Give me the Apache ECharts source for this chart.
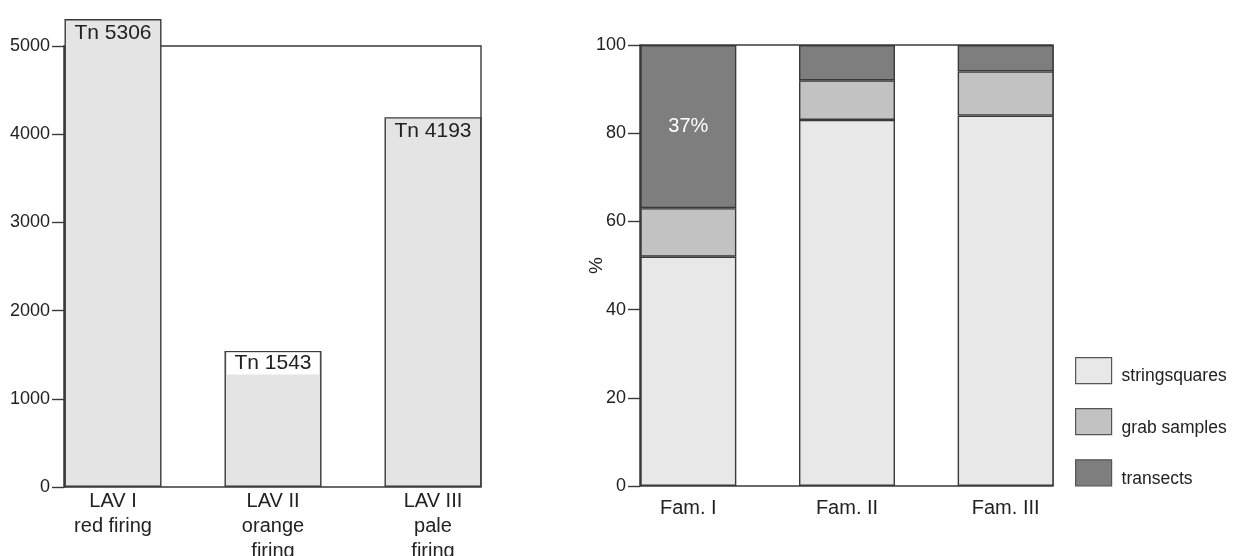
<!DOCTYPE html>
<html>
<head>
<meta charset="utf-8">
<script src="https://cdn.jsdelivr.net/npm/echarts@6/dist/echarts.min.js"></script>
<style>
html,body{margin:0;padding:0;background:#fff;}
#chart{width:1241px;height:556px;}
</style>
</head>
<body>
<div id="chart"></div>
<script>
// ---- data ----
const lavCategories = ['LAV I\nred firing', 'LAV II\norange\nfiring', 'LAV III\npale\nfiring'];
const lavTonnage = [5306, 1543, 4193];
const lavTicks = { min: 0, max: 5000, interval: 1000 };

const famCategories = ['Fam. I', 'Fam. II', 'Fam. III'];
const stringsquares = [52, 83, 84];
const grabSamples = [11, 9, 10];
const transects = [37, 8, 6];
const pctTicks = { min: 0, max: 100, interval: 20 };
const legendNames = ['stringsquares', 'grab samples', 'transects'];

// ---- styles ----
const FONT = '"Liberation Sans", Arial, sans-serif';
const INK = '#222';
const LINE = '#3a3a3a';
const barBorder = { borderColor: LINE, borderWidth: 1.4 };

const chart = echarts.init(document.getElementById('chart'), null, { renderer: 'canvas' });

function frameY(gridIndex, ticks, extra) {
  return Object.assign({
    gridIndex, type: 'value', min: ticks.min, max: ticks.max, interval: ticks.interval,
    axisLine: { show: true, lineStyle: { color: LINE, width: 1.4 } },
    axisTick: { show: true, length: 12, lineStyle: { color: LINE, width: 1.4 } },
    axisLabel: { fontSize: 18, color: INK, margin: 14, fontFamily: FONT, formatter: v => String(v) },
    splitLine: { show: false }
  }, extra || {});
}
function hiddenY(gridIndex, ticks) {
  return { gridIndex, type: 'value', min: ticks.min, max: ticks.max, show: false, splitLine: { show: false } };
}

const lavData = lavTonnage.map((v, i) => {
  if (i === 1) {
    return { value: v, label: { backgroundColor: '#fff', width: 92, height: 22, lineHeight: 22, align: 'center', distance: 1.5 } };
  }
  return v;
});

const transData = transects.map((v, i) => i === 0 ? { value: v, label: { show: true } } : v);

const gridBase = { outerBoundsMode: 'none', containLabel: false };

const option = {
  animation: false,
  textStyle: { fontFamily: FONT },
  grid: [
    Object.assign({ left: 64, top: 46, width: 417, height: 441, show: true, borderColor: LINE, borderWidth: 1.4, backgroundColor: 'transparent' }, gridBase),
    Object.assign({ left: 33, top: 46, width: 480, height: 441 }, gridBase),
    Object.assign({ left: 640, top: 45, width: 413, height: 441, show: true, borderColor: LINE, borderWidth: 1.4, backgroundColor: 'transparent' }, gridBase),
    Object.assign({ left: 609, top: 45, width: 476, height: 441 }, gridBase)
  ],
  xAxis: [
    { gridIndex: 0, type: 'value', min: 0, max: 1, show: false },
    { gridIndex: 1, type: 'category', data: lavCategories,
      axisLine: { show: false }, axisTick: { show: false },
      axisLabel: { fontSize: 20, lineHeight: 25, color: INK, margin: 2, fontFamily: FONT, interval: 0 } },
    { gridIndex: 2, type: 'value', min: 0, max: 1, show: false },
    { gridIndex: 3, type: 'category', data: famCategories,
      axisLine: { show: false }, axisTick: { show: false },
      axisLabel: { fontSize: 20, color: INK, margin: 12, fontFamily: FONT, interval: 0 } }
  ],
  yAxis: [
    frameY(0, lavTicks),
    hiddenY(1, lavTicks),
    frameY(2, pctTicks, { name: '%', nameLocation: 'middle', nameRotate: 90, nameGap: 34, nameMoveOverlap: false,
      nameTextStyle: { fontSize: 19, color: INK, fontFamily: FONT } }),
    hiddenY(3, pctTicks)
  ],
  legend: {
    data: legendNames,
    orient: 'vertical', left: 1075, top: 357, padding: 0,
    itemWidth: 36, itemHeight: 26, itemGap: 22.5,
    icon: 'rect',
    itemStyle: { borderColor: '#555', borderWidth: 1.2 },
    formatter: name => '{t|' + name + '}',
    textStyle: { fontSize: 17.5, color: INK, fontFamily: FONT,
      rich: { t: { fontSize: 17.5, color: INK, fontFamily: FONT, padding: [12, 0, 0, 5] } } }
  },
  series: [
    { type: 'bar', name: 'LAV', xAxisIndex: 1, yAxisIndex: 1, data: lavData, barWidth: 97, clip: false,
      itemStyle: Object.assign({ color: '#e4e4e4' }, barBorder),
      label: { show: true, position: 'insideTop', distance: 4, formatter: 'Tn {c}', fontSize: 21, color: INK, fontFamily: FONT } },
    { type: 'bar', name: 'stringsquares', xAxisIndex: 3, yAxisIndex: 3, stack: 'fam', data: stringsquares, barWidth: 96,
      itemStyle: Object.assign({ color: '#e8e8e8' }, barBorder) },
    { type: 'bar', name: 'grab samples', xAxisIndex: 3, yAxisIndex: 3, stack: 'fam', data: grabSamples, barWidth: 96,
      itemStyle: Object.assign({ color: '#c2c2c2' }, barBorder) },
    { type: 'bar', name: 'transects', xAxisIndex: 3, yAxisIndex: 3, stack: 'fam', data: transData, barWidth: 96,
      itemStyle: Object.assign({ color: '#7e7e7e' }, barBorder),
      label: { show: false, position: 'inside', formatter: '{c}%', fontSize: 20, color: '#fff', fontFamily: FONT } }
  ]
};
chart.setOption(option);
</script>
</body>
</html>
